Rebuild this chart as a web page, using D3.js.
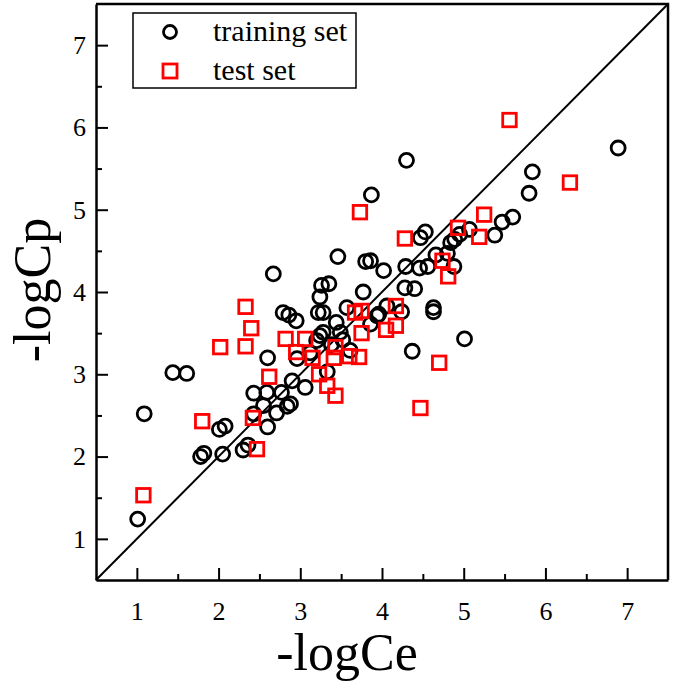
<!DOCTYPE html>
<html><head><meta charset="utf-8">
<script src="https://cdn.jsdelivr.net/npm/d3@7"></script>
<style>body{margin:0;background:#fff}svg{display:block}</style>
</head><body>
<svg id="c" width="675" height="688"></svg>
<script>
// training set: [-logCe, -logCp]
const trainX = [1.01,1.09,1.44,1.61,1.78,1.82,2.01,2.08,2.05,2.30,2.36,2.43,2.60,2.43,2.59,2.55,2.60,2.71,2.77,2.84,2.88,2.90,3.06,2.96,3.20,3.33,2.67,2.79,2.86,2.95,3.26,3.24,3.22,3.28,3.35,3.46,3.80,3.87,3.77,3.57,3.44,3.94,4.02,4.30,5.84,5.80,6.89,5.60,5.47,5.38,5.07,4.95,4.89,4.84,4.53,4.47,4.80,4.66,4.88,4.56,4.46,4.29,4.28,4.40,4.06,4.24,4.63,4.63,5.01,4.37,3.86,3.96,3.86,3.49,3.24,3.61,3.28,3.38,3.52,3.12];
const trainY = [1.24,2.52,3.02,3.01,2.00,2.04,2.33,2.37,2.03,2.08,2.14,2.52,3.20,2.77,2.78,2.62,2.36,2.53,2.78,2.61,2.64,2.92,2.84,3.19,3.41,3.03,4.22,3.75,3.72,3.65,4.08,3.94,3.75,3.51,4.10,4.43,4.37,5.18,4.00,3.81,3.63,3.71,4.26,5.60,5.46,5.20,5.75,4.91,4.85,4.69,4.76,4.70,4.64,4.60,4.73,4.66,4.47,4.45,4.31,4.31,4.29,4.31,4.05,4.04,3.83,3.76,3.81,3.76,3.43,3.28,4.38,3.73,3.61,3.51,3.47,3.29,3.75,3.36,3.42,3.26];
// test set
const testX = [1.08,1.80,2.02,2.33,2.33,2.40,2.47,2.42,2.62,2.82,3.06,2.95,3.15,3.23,3.33,3.43,3.41,3.43,3.60,3.72,3.67,3.75,3.75,3.73,4.17,4.17,4.05,4.28,4.47,4.70,4.74,4.81,4.93,5.19,5.25,5.56,6.30];
const testY = [1.53,2.43,3.33,3.34,3.82,3.56,2.09,2.47,2.97,3.43,3.43,3.27,3.20,3.00,2.86,2.74,3.20,3.33,3.22,3.21,3.75,3.77,3.50,4.97,3.83,3.59,3.54,4.65,2.59,3.14,4.38,4.19,4.78,4.67,4.94,6.09,5.33];
const domain = [0.5, 7.5];
const majorTicks = [1,2,3,4,5,6,7];
const minorTicks = [1.5,2.5,3.5,4.5,5.5,6.5];
const seriesNames = ["training set","test set"];

const svg = d3.select("#c");
const L=96, R=668, T=4, B=580;
const x = d3.scaleLinear().domain(domain).range([L,R]);
const y = d3.scaleLinear().domain(domain).range([B,T]);
const font = "'Liberation Serif','Times New Roman',serif";

// diagonal
svg.append("line").attr("x1",x(domain[0])).attr("y1",y(domain[0]))
  .attr("x2",x(domain[1])).attr("y2",y(domain[1]))
  .attr("stroke","#000").attr("stroke-width",2);

// training circles
svg.append("g").selectAll("circle").data(trainX.map((v,i)=>[v,trainY[i]])).join("circle")
  .attr("cx",d=>x(d[0])).attr("cy",d=>y(d[1])).attr("r",7)
  .attr("fill","none").attr("stroke","#000").attr("stroke-width",2.8);

// test squares
const s=13.5;
svg.append("g").selectAll("rect").data(testX.map((v,i)=>[v,testY[i]])).join("rect")
  .attr("x",d=>x(d[0])-s/2).attr("y",d=>y(d[1])-s/2).attr("width",s).attr("height",s)
  .attr("fill","none").attr("stroke","#ff0000").attr("stroke-width",2.8);

// axes (ticks inward)
svg.append("g").attr("transform",`translate(0,${B})`)
  .call(d3.axisBottom(x).tickValues(majorTicks).tickSizeInner(-12).tickSizeOuter(0).tickPadding(22).tickFormat(d3.format("d")));
svg.append("g").attr("transform",`translate(0,${B})`)
  .call(d3.axisBottom(x).tickValues(minorTicks).tickSizeInner(-6).tickSizeOuter(0).tickFormat(""))
  .select(".domain").remove();
svg.append("g").attr("transform",`translate(${L},0)`)
  .call(d3.axisLeft(y).tickValues(majorTicks).tickSizeInner(-12).tickSizeOuter(0).tickPadding(10).tickFormat(d3.format("d")));
svg.append("g").attr("transform",`translate(${L},0)`)
  .call(d3.axisLeft(y).tickValues(minorTicks).tickSizeInner(-6).tickSizeOuter(0).tickFormat(""))
  .select(".domain").remove();
svg.selectAll(".tick line").attr("stroke","#000").attr("stroke-width",2);
svg.selectAll(".domain").attr("stroke","#000").attr("stroke-width",2.5);
svg.selectAll(".tick text").style("font-family",font).style("font-size","26px").attr("fill","#000");

// top & right border
svg.append("path").attr("d",`M${L},${T}H${R}V${B}`).attr("fill","none").attr("stroke","#000").attr("stroke-width",2.5);

// titles
svg.append("text").attr("x",347).attr("y",670).attr("text-anchor","middle")
  .style("font-family",font).style("font-size","52px").text("-logCe");
svg.append("text").attr("transform","translate(50,290) rotate(-90)").attr("text-anchor","middle")
  .style("font-family",font).style("font-size","52px").text("-logCp");

// legend
const lg = svg.append("g");
lg.append("rect").attr("x",133).attr("y",13).attr("width",223).attr("height",75)
  .attr("fill","#fff").attr("stroke","#000").attr("stroke-width",1.5);
lg.append("circle").attr("cx",170).attr("cy",32).attr("r",6.5).attr("fill","none").attr("stroke","#000").attr("stroke-width",2.8);
lg.append("rect").attr("x",170-7).attr("y",71-7).attr("width",14).attr("height",14).attr("fill","none").attr("stroke","#ff0000").attr("stroke-width",2.8);
lg.append("text").attr("x",213).attr("y",41).style("font-family",font).style("font-size","30px").text(seriesNames[0]);
lg.append("text").attr("x",213).attr("y",80).style("font-family",font).style("font-size","30px").text(seriesNames[1]);
</script>
</body></html>
